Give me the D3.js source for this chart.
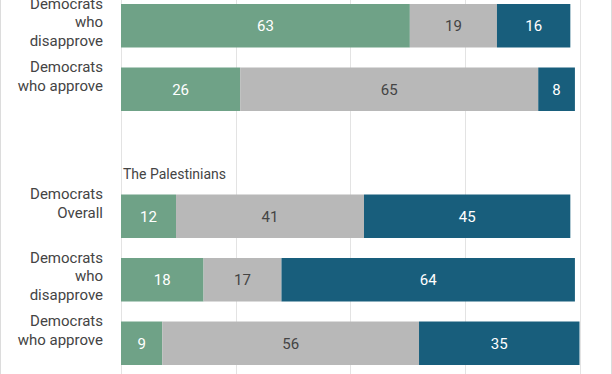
<!DOCTYPE html>
<html>
<head>
<meta charset="utf-8">
<script src="https://cdn.jsdelivr.net/npm/d3@7"></script>
<style>
	body { margin: 0; background: #fff; }
	svg { display: block; font-family: Roboto, "Noto Sans", sans-serif; }
</style>
</head>
<body>
<div id="chart"></div>
<script>
/* stacked bars, cropped view */

// rows (one empty spacer row before the second group)
var rowIds = ["isr_dis", "isr_app", "spacer", "pal_all", "pal_dis", "pal_app"];
var rowLabels = [
	["Democrats", "who", "disapprove"],
	["Democrats", "who approve"],
	[],
	["Democrats", "Overall"],
	["Democrats", "who", "disapprove"],
	["Democrats", "who approve"]
];
var sectionTitle = "The Palestinians";

// series values
var favorable   = [63, 26, null, 12, 18, 9];
var neither     = [19, 65, null, 41, 17, 56];
var unfavorable = [16,  8, null, 45, 64, 35];

var xTicks = [0, 25, 50, 75, 100];

var width = 612, height = 374;

var colors = {fav: "#6fa287", mid: "#b8b8b8", unfav: "#185e7c"};
var textColors = {fav: "#fff", mid: "#444", unfav: "#fff"};

var svg = d3.select("#chart").append("svg")
	.attr("width", width)
	.attr("height", height);

var x = d3.scaleLinear()
	.domain([0, 100])
	.range([121, 579.5]);

// band rows; top of the chart is cut off in the picture
var y = d3.scaleBand()
	.domain(rowIds)
	.range([4, 365])
	.paddingInner(0.315)
	.paddingOuter(0);

// frame
svg.append("rect")
	.attr("x", 0.5).attr("y", -2)
	.attr("width", 611).attr("height", height + 4)
	.style("fill", "none")
	.style("stroke", "#dcdcdc");

// gridlines
svg.append("g").selectAll("line")
	.data(xTicks)
	.enter().append("line")
	.attr("x1", d => Math.round(x(d)) + 0.5)
	.attr("x2", d => Math.round(x(d)) + 0.5)
	.attr("y1", 0)
	.attr("y2", height)
	.style("stroke", "#e3e3e3");

// build stacked data
var rows = rowIds.map((id, i) => ({
	id: id,
	label: rowLabels[i],
	fav: favorable[i],
	mid: neither[i],
	unfav: unfavorable[i]
})).filter(d => d.fav != null);

var keys = ["fav", "mid", "unfav"];
var series = d3.stack().keys(keys)(rows);

var layers = svg.append("g").selectAll("g")
	.data(series)
	.enter().append("g");

layers.selectAll("rect")
	.data(s => s.map(d => ({key: s.key, d: d})))
	.enter().append("rect")
	.attr("x", p => x(p.d[0]))
	.attr("width", p => x(p.d[1]) - x(p.d[0]))
	.attr("y", p => y(p.d.data.id))
	.attr("height", y.bandwidth())
	.style("fill", p => colors[p.key]);

layers.selectAll("text")
	.data(s => s.map(d => ({key: s.key, d: d})))
	.enter().append("text")
	.attr("x", p => (x(p.d[0]) + x(p.d[1])) / 2)
	.attr("y", p => y(p.d.data.id) + y.bandwidth() / 2)
	.attr("dy", "0.36em")
	.style("text-anchor", "middle")
	.style("font-size", "15px")
	.style("fill", p => textColors[p.key])
	.text(p => p.d.data[p.key]);

// row labels, top aligned
var labels = svg.append("g").selectAll("text")
	.data(rows)
	.enter().append("text")
	.attr("x", 103)
	.attr("y", d => y(d.id) + 4.5)
	.style("text-anchor", "end")
	.style("font-size", "15px")
	.style("fill", "#444");

labels.selectAll("tspan")
	.data(d => d.label)
	.enter().append("tspan")
	.attr("x", 103)
	.attr("dy", (d, i) => i === 0 ? 0 : 18.7)
	.text(d => d);

// section title
svg.append("text")
	.attr("x", 123)
	.attr("y", y("pal_all") - 16)
	.style("font-size", "14px")
	.style("fill", "#444")
	.text(sectionTitle);
</script>
</body>
</html>
